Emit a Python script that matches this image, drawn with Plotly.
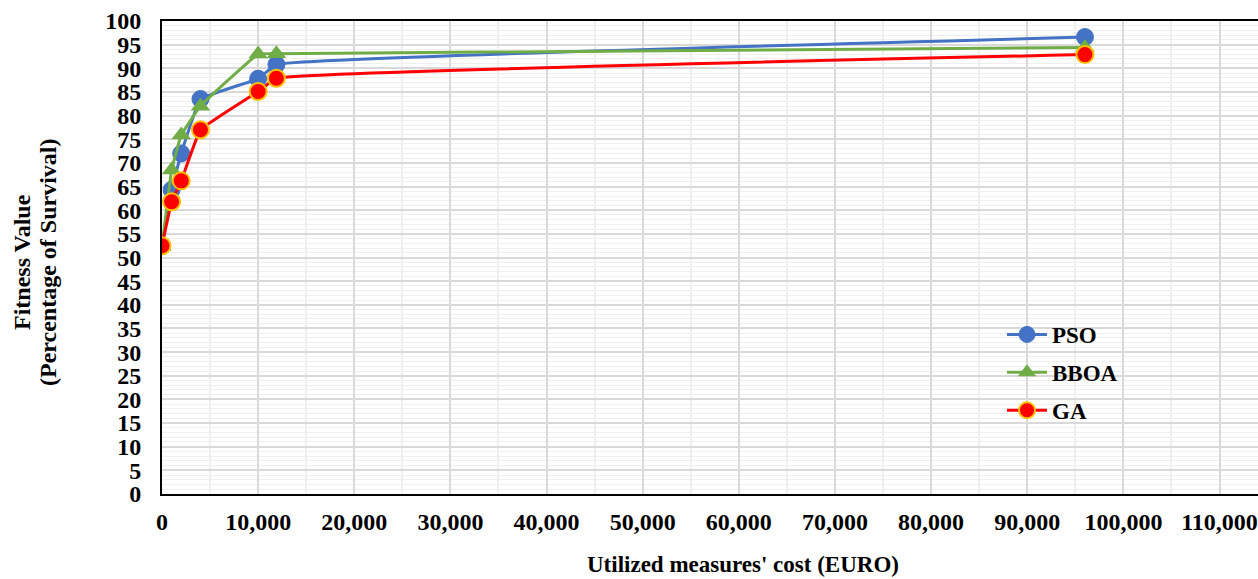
import plotly.graph_objects as go

cost = [0, 1000, 2000, 4000, 10000, 11900, 96000]
pso = [52.5, 64.3, 72.0, 83.5, 87.8, 90.8, 96.6]
bboa = [52.3, 68.5, 75.9, 82.0, 93.0, 93.1, 94.4]
ga = [52.5, 61.8, 66.2, 77.0, 85.1, 87.9, 92.9]

x_ticks = list(range(0, 110001, 10000))
y_ticks = list(range(0, 101, 5))

font = "Liberation Serif"
FS = 24
L, R, T, B = 162, 0, 21, 85
W, H = 1258, 579
PW = W - L - R
PH = H - T - B
SM = 0.25

fig = go.Figure()
fig.add_trace(go.Scatter(x=cost, y=pso, name="PSO", mode="lines+markers", legendgroup="a",
                         line=dict(color="#4472C4", width=3, shape="spline", smoothing=SM),
                         marker=dict(symbol="circle", size=17, color="#4472C4",
                                     line=dict(color="#4472C4", width=1))))
fig.add_trace(go.Scatter(x=cost, y=bboa, name="BBOA", mode="lines+markers", legendgroup="b",
                         line=dict(color="#70AD47", width=3, shape="spline", smoothing=SM),
                         marker=dict(symbol="triangle-up", size=17, color="#70AD47")))
fig.add_trace(go.Scatter(x=cost, y=ga, name="GA", mode="lines+markers", legendgroup="c",
                         line=dict(color="#FF0000", width=3, shape="spline", smoothing=SM),
                         marker=dict(symbol="circle", size=17, color="#FF0000",
                                     line=dict(color="#FFC000", width=2))))

fig.update_layout(
    width=W, height=H,
    margin=dict(l=L, r=R, t=T, b=B),
    paper_bgcolor="white", plot_bgcolor="white",
    font=dict(family=font, size=FS, color="black"),
    showlegend=True,
    legend=dict(x=(1002 - L) / PW, y=(T + PH - 313) / PH, xanchor="left", yanchor="top",
                bgcolor="rgba(0,0,0,0)", font=dict(family=font, size=FS - 1, color="black", weight="bold"),
                tracegroupgap=5, itemwidth=40),
    xaxis=dict(range=[0, 114000], tickvals=x_ticks, tickformat=",",
               tickfont=dict(family=font, size=FS, weight="bold"),
               showgrid=True, gridcolor="#d9d9d9", gridwidth=2,
               minor=dict(dtick=5000, tick0=0, showgrid=True, gridcolor="#efefef", gridwidth=2),
               showline=True, linecolor="black", linewidth=2, mirror=True,
               ticks="", ticklabelstandoff=5, zeroline=False),
    yaxis=dict(range=[0, 100], tickvals=y_ticks,
               tickfont=dict(family=font, size=FS, weight="bold"),
               showgrid=True, gridcolor="#d9d9d9", gridwidth=2,
               minor=dict(dtick=1, tick0=0, showgrid=True, gridcolor="#efefef", gridwidth=1),
               showline=True, linecolor="black", linewidth=2, mirror=False,
               ticks="", ticklabelstandoff=14, zeroline=False),
)

for txt, px in [("Fitness Value", 22), ("(Percentage of Survival)", 48)]:
    fig.add_annotation(text=txt, xref="paper", yref="paper",
                       x=(px - L) / PW, y=(T + PH - 262) / PH,
                       xanchor="center", yanchor="middle", textangle=-90, showarrow=False,
                       font=dict(family=font, size=FS, weight="bold", color="black"))

fig.add_annotation(text="Utilized measures' cost (EURO)", xref="paper", yref="paper",
                   x=(743 - L) / PW, y=(T + PH - 564) / PH,
                   xanchor="center", yanchor="middle", showarrow=False,
                   font=dict(family=font, size=FS - 1, weight="bold", color="black"))

fig.write_html("out.html", config={"displayModeBar": False},
               post_script="document.body.style.margin='0px';")
